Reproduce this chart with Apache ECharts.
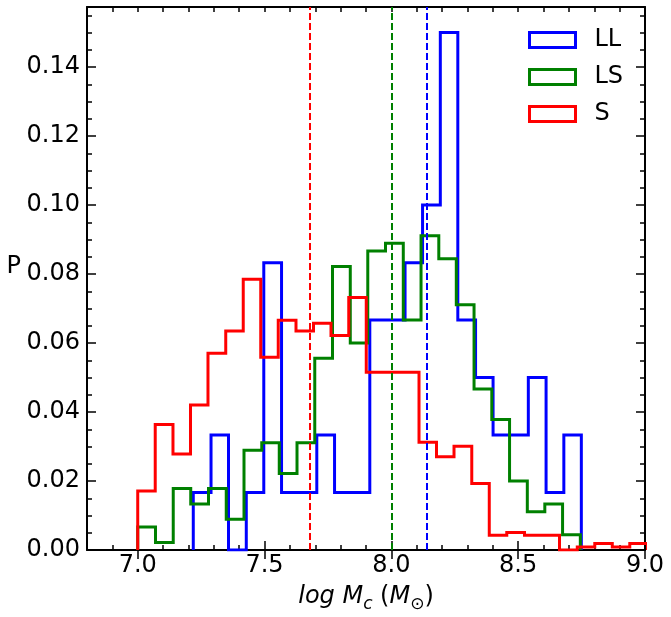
<!DOCTYPE html>
<html>
<head>
<meta charset="utf-8">
<script src="https://cdn.jsdelivr.net/npm/echarts@6/dist/echarts.min.js"></script>
<style>html,body{margin:0;padding:0;background:#fff;}#c{width:671px;height:617px;}</style>
</head>
<body>
<div id="c"></div>
<script>
// ---- data ----
const llEdges = [7.219, 7.289, 7.358, 7.428, 7.497, 7.567, 7.636, 7.706, 7.776, 7.845, 7.915, 7.984, 8.054, 8.123, 8.193, 8.262, 8.332, 8.401, 8.471, 8.540, 8.610, 8.680, 8.749];
const llValues = [0.0167, 0.0333, 0, 0.0167, 0.0833, 0.0167, 0.0167, 0.0333, 0.0167, 0.0167, 0.0667, 0.0667, 0.0833, 0.1, 0.15, 0.0667, 0.05, 0.0333, 0.0333, 0.05, 0.0167, 0.0333];

const lsEdges = [7.000, 7.070, 7.140, 7.209, 7.279, 7.349, 7.419, 7.489, 7.558, 7.628, 7.698, 7.768, 7.838, 7.907, 7.977, 8.047, 8.117, 8.187, 8.256, 8.326, 8.396, 8.466, 8.536, 8.605, 8.675, 8.745];
const lsValues = [0.0067, 0.0022, 0.0178, 0.0133, 0.0178, 0.0089, 0.0289, 0.0311, 0.0222, 0.0311, 0.0556, 0.0822, 0.06, 0.0867, 0.0889, 0.0667, 0.0911, 0.0844, 0.0711, 0.0467, 0.0378, 0.02, 0.0111, 0.0133, 0.0044];

const sEdges = [7.000, 7.069, 7.139, 7.208, 7.277, 7.347, 7.416, 7.485, 7.554, 7.624, 7.693, 7.762, 7.832, 7.901, 7.970, 8.040, 8.109, 8.178, 8.247, 8.317, 8.386, 8.455, 8.525, 8.594, 8.663, 8.733, 8.802, 8.871, 8.940, 9.010];
const sValues = [0.0171, 0.0364, 0.0278, 0.042, 0.057, 0.0635, 0.0785, 0.0559, 0.0666, 0.0635, 0.0657, 0.0622, 0.0732, 0.0515, 0.0515, 0.0515, 0.0312, 0.027, 0.0301, 0.0193, 0.0043, 0.0051, 0.0043, 0.0043, 0, 0.0009, 0.0019, 0.0009, 0.0019];

const seriesNames = ['LL', 'LS', 'S'];
const medians = [8.142, 8.0, 7.677];

const xTickValues = [7.0, 7.5, 8.0, 8.5, 9.0];
const yTickValues = [0, 0.02, 0.04, 0.06, 0.08, 0.10, 0.12, 0.14];

// ---- build ----
const FONT = 'DejaVu Sans';
const FS = 24;
const colors = ['#0000ff', '#008000', '#ff0000'];
function stepData(edges, vals) {
  const d = [[edges[0], 0]];
  for (let i = 0; i < vals.length; i++) d.push([edges[i], vals[i]]);
  d.push([edges[vals.length], 0]);
  return d;
}
const hist = [[llEdges, llValues], [lsEdges, lsValues], [sEdges, sValues]];

const XMIN = 6.8, XMAX = 9.0, YMIN = 0, YMAX = 0.1574;
const axLine = {show: true, onZero: false, lineStyle: {color: '#000', width: 2}};
const minorTick = {show: true, inside: true, length: 5, lineStyle: {color: '#000', width: 1.5}};
const majorTickStyle = {color: '#000', width: 1.5};
const labelStyle = {color: '#000', fontSize: FS, fontFamily: FONT};

const xAxes = [
  {type: 'value', position: 'bottom', min: XMIN, max: XMAX, interval: 0.1, axisLine: axLine, axisTick: minorTick,
   axisLabel: {show: false}, splitLine: {show: false},
   name: '{i|log M}{s|c}{n| (}{i|M}{o|⊙}{n|)}', nameLocation: 'middle', nameGap: 35,
   nameTextStyle: {color: '#000', fontSize: FS, fontFamily: FONT,
     rich: {
       i: {fontStyle: 'italic', fontSize: FS, fontFamily: FONT, color: '#000'},
       n: {fontSize: FS, fontFamily: FONT, color: '#000'},
       s: {fontStyle: 'italic', fontSize: 17, fontFamily: FONT, color: '#000', verticalAlign: 'bottom', padding: [0, 0, -4, 0]},
       o: {fontSize: 17, fontFamily: FONT, color: '#000', verticalAlign: 'bottom', padding: [0, 0, -4, 0]}
     }}},
  {type: 'value', position: 'bottom', min: XMIN, max: XMAX, axisLine: {show: false},
   axisTick: {show: true, inside: true, length: 9, customValues: xTickValues, lineStyle: majorTickStyle},
   axisLabel: Object.assign({customValues: xTickValues, margin: 4, showMinLabel: true, showMaxLabel: true, formatter: v => Number(v).toFixed(1)}, labelStyle),
   splitLine: {show: false}},
  {type: 'value', position: 'top', min: XMIN, max: XMAX, interval: 0.1, axisLine: axLine, axisTick: minorTick,
   axisLabel: {show: false}, splitLine: {show: false}},
  {type: 'value', position: 'top', min: XMIN, max: XMAX, axisLine: {show: false},
   axisTick: {show: true, inside: true, length: 9, customValues: xTickValues, lineStyle: majorTickStyle},
   axisLabel: {show: false}, splitLine: {show: false}}
];
const yAxes = [
  {type: 'value', position: 'left', min: YMIN, max: YMAX, interval: 0.005, axisLine: axLine, axisTick: minorTick,
   axisLabel: {show: false}, splitLine: {show: false},
   name: 'P', nameLocation: 'middle', nameRotate: 0, nameGap: 66,
   nameTextStyle: {color: '#000', fontSize: FS, fontFamily: FONT, verticalAlign: 'bottom'}},
  {type: 'value', position: 'left', min: YMIN, max: YMAX, axisLine: {show: false},
   axisTick: {show: true, inside: true, length: 9, customValues: yTickValues, lineStyle: majorTickStyle},
   axisLabel: Object.assign({customValues: yTickValues, margin: 7, formatter: v => Number(v).toFixed(2)}, labelStyle),
   splitLine: {show: false}},
  {type: 'value', position: 'right', min: YMIN, max: YMAX, interval: 0.005, axisLine: axLine, axisTick: minorTick,
   axisLabel: {show: false}, splitLine: {show: false}},
  {type: 'value', position: 'right', min: YMIN, max: YMAX, axisLine: {show: false},
   axisTick: {show: true, inside: true, length: 9, customValues: yTickValues, lineStyle: majorTickStyle},
   axisLabel: {show: false}, splitLine: {show: false}}
];

const series = seriesNames.map((nm, k) => ({
  name: nm, type: 'line', step: 'end', xAxisIndex: 0, yAxisIndex: 0,
  data: stepData(hist[k][0], hist[k][1]),
  showSymbol: false, symbol: 'none', clip: true,
  lineStyle: {color: colors[k], width: 3, join: 'miter'},
  itemStyle: {color: colors[k]},
  z: 2 + k,
  markLine: {silent: true, symbol: ['none', 'none'], label: {show: false},
    lineStyle: {color: colors[k], width: 2, type: [7, 3]},
    data: [{xAxis: medians[k]}]}
}));

const chart = echarts.init(document.getElementById('c'), null, {renderer: 'canvas'});
chart.setOption({
  animation: false,
  backgroundColor: '#fff',
  grid: {left: 87, right: 26, top: 7, bottom: 67, containLabel: false, outerBoundsMode: 'none'},
  legend: {
    orient: 'vertical', left: 528, top: 28, padding: 0, itemWidth: 46, itemHeight: 15, itemGap: 13,
    textStyle: {color: '#000', fontSize: FS, fontFamily: FONT, lineHeight: 24, padding: [0, 0, 0, 14]},
    data: seriesNames.map((nm, k) => ({name: nm, icon: 'rect',
      itemStyle: {color: 'transparent', borderColor: colors[k], borderWidth: 3}}))
  },
  xAxis: xAxes,
  yAxis: yAxes,
  series: series
});
</script>
</body>
</html>
